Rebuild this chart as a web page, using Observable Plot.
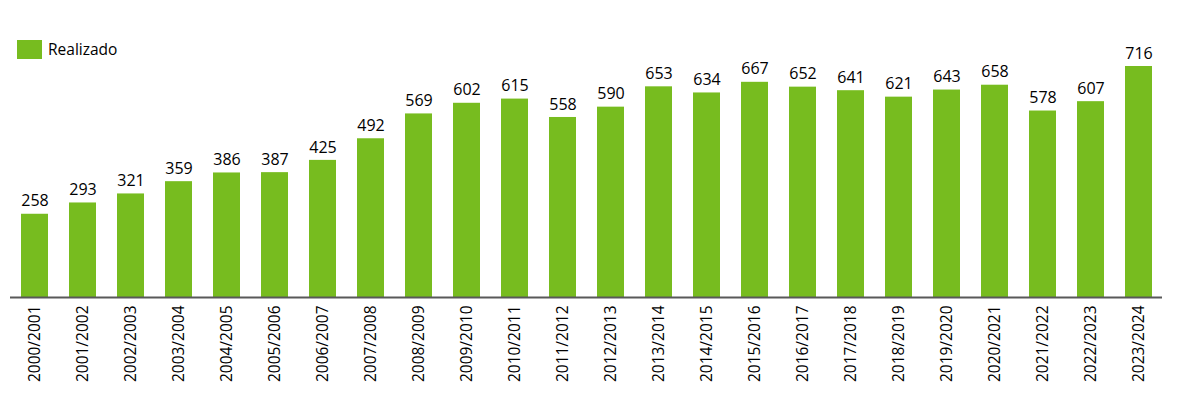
<!DOCTYPE html>
<html>
<head>
<meta charset="utf-8">
<script src="https://cdn.jsdelivr.net/npm/d3@7"></script>
<script src="https://cdn.jsdelivr.net/npm/@observablehq/plot@0.6"></script>
<style>
  html, body { margin: 0; padding: 0; background: #fff; }
  #wrap { position: relative; width: 1182px; height: 398px; font-family: "Open Sans", sans-serif; }
  #legend { position: absolute; left: 17px; top: 38px; display: flex; align-items: center; font-size: 15.5px; color: #000; }
  #legend .sw { width: 25px; height: 19px; background: #77bc1f; margin-right: 6px; }
</style>
</head>
<body>
<div id="wrap">
  <div id="legend"><div class="sw"></div><span>Realizado</span></div>
  <div id="chart"></div>
</div>
<script>
const seasons = ["2000/2001","2001/2002","2002/2003","2003/2004","2004/2005","2005/2006","2006/2007","2007/2008","2008/2009","2009/2010","2010/2011","2011/2012","2012/2013","2013/2014","2014/2015","2015/2016","2016/2017","2017/2018","2018/2019","2019/2020","2020/2021","2021/2022","2022/2023","2023/2024"];
const realizado = [258,293,321,359,386,387,425,492,569,602,615,558,590,653,634,667,652,641,621,643,658,578,607,716];
const seriesName = "Realizado";

const data = seasons.map((s, i) => ({season: s, value: realizado[i]}));

const chart = Plot.plot({
  width: 1182,
  height: 398,
  marginTop: 66,
  marginBottom: 101,
  marginLeft: 10,
  marginRight: 20,
  style: {fontFamily: "'Open Sans', sans-serif", background: "transparent"},
  x: {domain: seasons, paddingInner: 0.44, paddingOuter: 0.22, label: null},
  y: {domain: [0, 716], axis: null},
  marks: [
    Plot.barY(data, {x: "season", y: "value", fill: "#77bc1f"}),
    Plot.ruleY([0], {stroke: "#595959", strokeWidth: 2}),
    Plot.text(data, {x: "season", y: "value", text: d => String(d.value), dy: -13, fontSize: 16, fill: "#000"}),
    Plot.axisX({tickSize: 0, tickRotate: -90, tickPadding: 8, fontSize: 15.5, fill: "#000", label: null})
  ]
});
document.getElementById("chart").appendChild(chart);
</script>
</body>
</html>
